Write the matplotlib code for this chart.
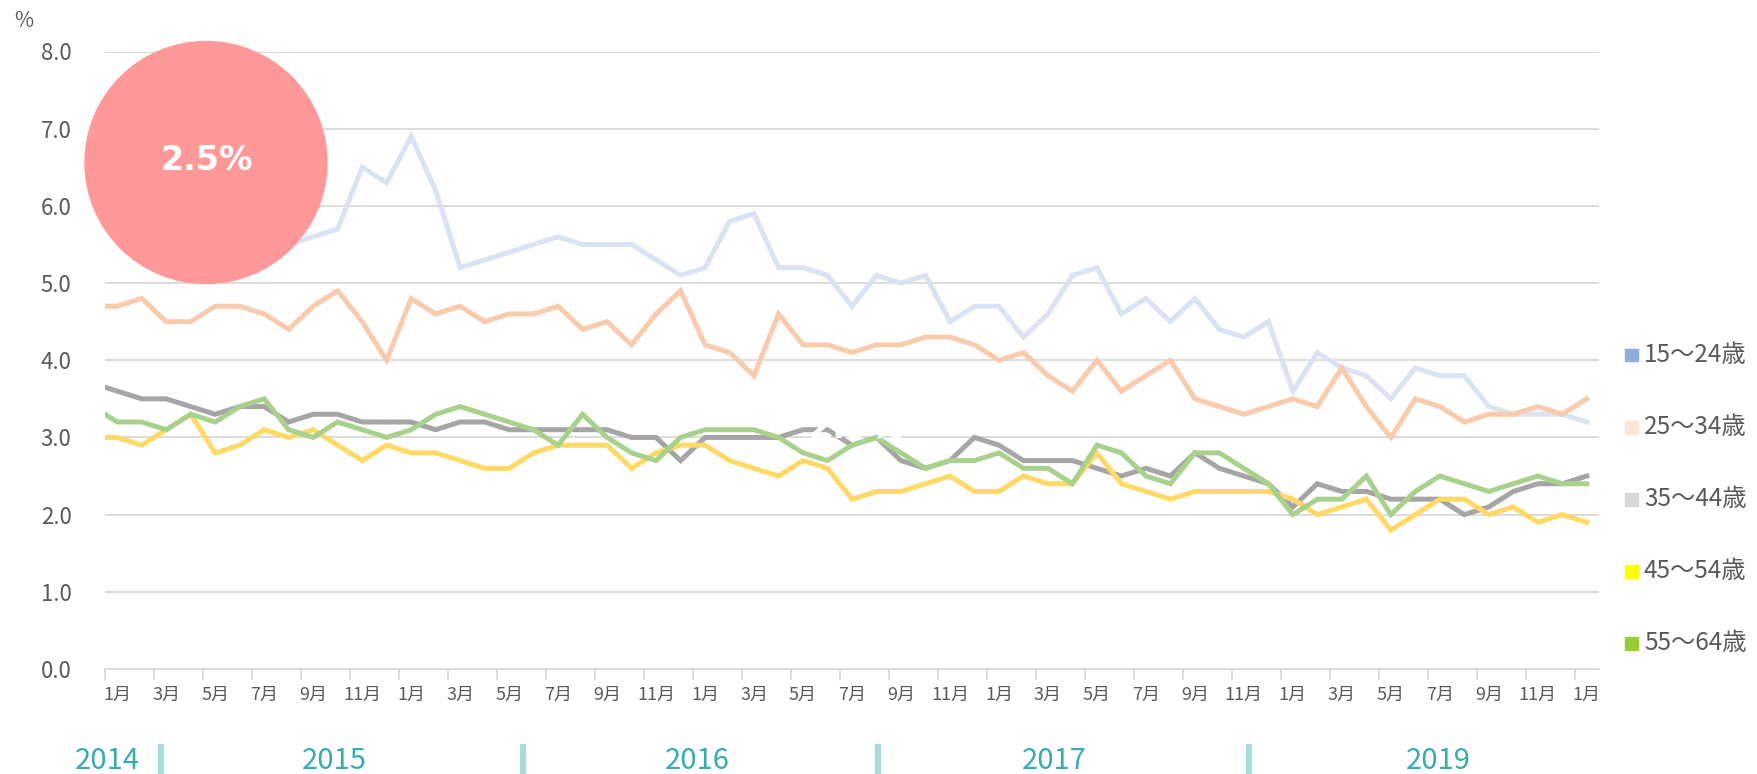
import numpy as np
import matplotlib
matplotlib.use("Agg")
import matplotlib.pyplot as plt
from matplotlib.patches import Circle, Rectangle
from matplotlib.lines import Line2D

plt.rcParams['font.family'] = ['Noto Sans CJK JP', 'DejaVu Sans']

# months: Dec 2013 (clipped at the left edge) .. Jan 2019
months = [12] + list(range(1, 13)) * 5 + [1]
x = np.arange(-1, 61)

u15_24 = [6.4, 6.3, 6.2, 6.0, 6.2, 6.0, 5.8, 5.7, 5.5, 5.6, 5.7, 6.5, 6.3, 6.9, 6.2, 5.2,
          5.3, 5.4, 5.5, 5.6, 5.5, 5.5, 5.5, 5.3, 5.1, 5.2, 5.8, 5.9, 5.2, 5.2, 5.1, 4.7,
          5.1, 5.0, 5.1, 4.5, 4.7, 4.7, 4.3, 4.6, 5.1, 5.2, 4.6, 4.8, 4.5, 4.8, 4.4, 4.3,
          4.5, 3.6, 4.1, 3.9, 3.8, 3.5, 3.9, 3.8, 3.8, 3.4, 3.3, 3.3, 3.3, 3.2]
u25_34 = [4.7, 4.7, 4.8, 4.5, 4.5, 4.7, 4.7, 4.6, 4.4, 4.7, 4.9, 4.5, 4.0, 4.8, 4.6, 4.7,
          4.5, 4.6, 4.6, 4.7, 4.4, 4.5, 4.2, 4.6, 4.9, 4.2, 4.1, 3.8, 4.6, 4.2, 4.2, 4.1,
          4.2, 4.2, 4.3, 4.3, 4.2, 4.0, 4.1, 3.8, 3.6, 4.0, 3.6, 3.8, 4.0, 3.5, 3.4, 3.3,
          3.4, 3.5, 3.4, 3.9, 3.4, 3.0, 3.5, 3.4, 3.2, 3.3, 3.3, 3.4, 3.3, 3.5]
u35_44 = [3.7, 3.6, 3.5, 3.5, 3.4, 3.3, 3.4, 3.4, 3.2, 3.3, 3.3, 3.2, 3.2, 3.2, 3.1, 3.2,
          3.2, 3.1, 3.1, 3.1, 3.1, 3.1, 3.0, 3.0, 2.7, 3.0, 3.0, 3.0, 3.0, 3.1, 3.1, 2.9,
          3.0, 2.7, 2.6, 2.7, 3.0, 2.9, 2.7, 2.7, 2.7, 2.6, 2.5, 2.6, 2.5, 2.8, 2.6, 2.5,
          2.4, 2.1, 2.4, 2.3, 2.3, 2.2, 2.2, 2.2, 2.0, 2.1, 2.3, 2.4, 2.4, 2.5]
u45_54 = [3.0, 3.0, 2.9, 3.1, 3.3, 2.8, 2.9, 3.1, 3.0, 3.1, 2.9, 2.7, 2.9, 2.8, 2.8, 2.7,
          2.6, 2.6, 2.8, 2.9, 2.9, 2.9, 2.6, 2.8, 2.9, 2.9, 2.7, 2.6, 2.5, 2.7, 2.6, 2.2,
          2.3, 2.3, 2.4, 2.5, 2.3, 2.3, 2.5, 2.4, 2.4, 2.8, 2.4, 2.3, 2.2, 2.3, 2.3, 2.3,
          2.3, 2.2, 2.0, 2.1, 2.2, 1.8, 2.0, 2.2, 2.2, 2.0, 2.1, 1.9, 2.0, 1.9]
u55_64 = [3.4, 3.2, 3.2, 3.1, 3.3, 3.2, 3.4, 3.5, 3.1, 3.0, 3.2, 3.1, 3.0, 3.1, 3.3, 3.4,
          3.3, 3.2, 3.1, 2.9, 3.3, 3.0, 2.8, 2.7, 3.0, 3.1, 3.1, 3.1, 3.0, 2.8, 2.7, 2.9,
          3.0, 2.8, 2.6, 2.7, 2.7, 2.8, 2.6, 2.6, 2.4, 2.9, 2.8, 2.5, 2.4, 2.8, 2.8, 2.6,
          2.4, 2.0, 2.2, 2.2, 2.5, 2.0, 2.3, 2.5, 2.4, 2.3, 2.4, 2.5, 2.4, 2.4]

series = [u15_24, u25_34, u35_44, u45_54, u55_64]
labels = ['15～24歳', '25～34歳', '35～44歳', '45～54歳', '55～64歳']
line_colors = ['#DAE3F3', '#F8CBAD', '#A5A5A5', '#FFD966', '#A9D18E']
legend_colors = ['#8FAADC', '#FBE5D6', '#D9D9D9', '#FFFF00', '#99CC33']

years = ['2014', '2015', '2016', '2017', '2019']
highlight = '2.5%'

W, H = 1757, 774
fig = plt.figure(figsize=(W / 100, H / 100), dpi=100)
ax = fig.add_axes([105 / W, (H - 669) / H, 1494 / W, 617.5 / H])

for vals, c in zip(series, line_colors):
    ax.plot(x, vals, color=c, lw=3.6, solid_joinstyle='miter')

ax.set_xlim(-0.5, 60.5)
ax.set_ylim(0, 8)
ax.set_yticks(np.arange(0, 9))
ax.set_yticklabels([f'{v:.1f}' for v in range(9)])
ax.yaxis.grid(True, color='#D9D9D9', lw=1.3)
ax.set_axisbelow(True)
for s in ['top', 'right', 'left']:
    ax.spines[s].set_visible(False)
ax.spines['bottom'].set_color('#D9D9D9')
ax.spines['bottom'].set_linewidth(1.3)
ax.tick_params(axis='y', length=0, pad=24, labelsize=16, labelcolor='#595959')

# tick marks between categories, month labels centred on them
ax.set_xticks(np.arange(-0.5, 60, 2))
ax.set_xticklabels([])
ax.tick_params(axis='x', which='major', length=8, width=1.3, color='#D9D9D9')
lab_pos = np.arange(0, 61, 2)
ax.set_xticks(lab_pos, minor=True)
ax.set_xticklabels([f'{months[i + 1]}月' for i in lab_pos], minor=True)
ax.tick_params(axis='x', which='minor', length=0, pad=12, labelsize=13, labelcolor='#595959')

fig.text(24 / W, 1 - 21 / H, '%', ha='center', va='center', fontsize=15, color='#595959')

# legend on the right
for k, (lab, c) in enumerate(zip(labels, legend_colors)):
    yc = 355 + k * 72
    fig.add_artist(Rectangle((1625 / W, 1 - (yc + 6.5) / H), 13 / W, 13 / H,
                             transform=fig.transFigure, color=c))
    fig.text(1644 / W, 1 - yc / H, lab, va='center', ha='left', fontsize=17.5, color='#595959')

# year row under the axis
for lab, px in zip(years, [107, 334, 697, 1054, 1438]):
    fig.text(px / W, 1 - 769 / H, lab, ha='center', va='baseline', fontsize=21, color='#38ACAA')
for px in [161, 523, 878, 1249]:
    fig.add_artist(Line2D([px / W, px / W], [0, 1 - 747 / H], transform=fig.transFigure,
                          color='#A8DCDB', lw=4.5))

# highlight bubble
fig.add_artist(Circle((2.06, (H - 162.5) / 100), 1.21, transform=fig.dpi_scale_trans,
                      color='#FF9999', zorder=3))
fig.text(207 / W, 1 - 160 / H, highlight, ha='center', va='center', fontsize=24,
         fontweight='bold', color='white', family='DejaVu Sans', zorder=4)
fig.text(856 / W, 1 - 427 / H, '2.9%', ha='center', va='center', fontsize=25,
         fontweight='bold', color='white', family='DejaVu Sans', zorder=4)

fig.savefig('out.png', dpi=100)
